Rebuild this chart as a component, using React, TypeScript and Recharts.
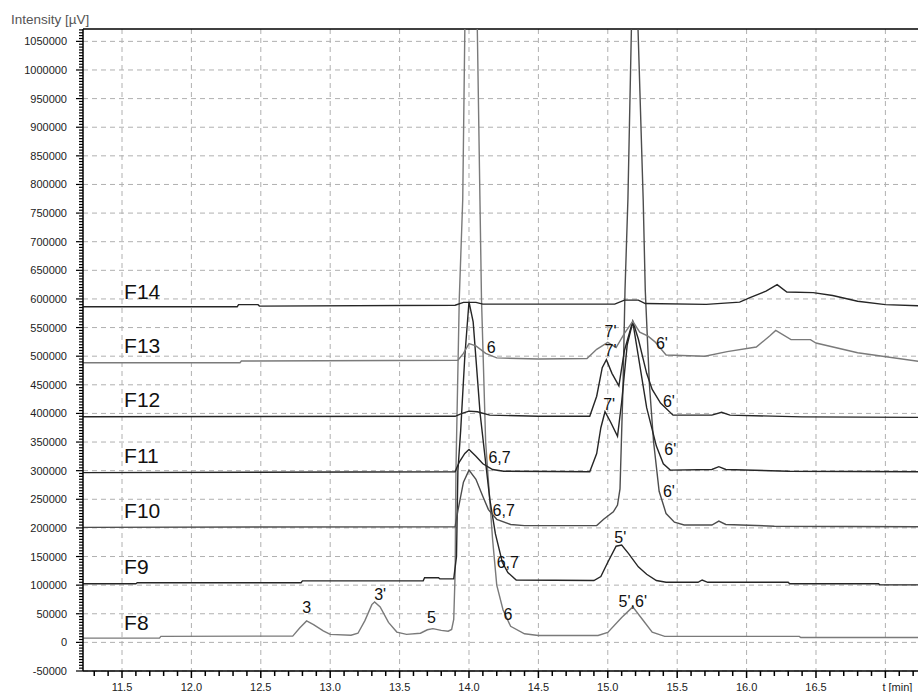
import React from 'react';
import { LineChart, Line, XAxis, YAxis, CartesianGrid, ReferenceLine, ReferenceDot } from 'recharts';

type Pt = [number, number];

// retention time [min], intensity [µV]
const f8: Pt[] = [
  [11.22, 7500], [11.77, 7500], [11.78, 10500], [12.73, 11000], [12.78, 25000], [12.83, 37500], [12.88, 31000],
  [12.95, 20000], [13.0, 14000], [13.15, 12500], [13.2, 16000], [13.25, 38000], [13.3, 66000], [13.32, 70500],
  [13.36, 62000], [13.42, 35000], [13.48, 18000], [13.55, 14000], [13.65, 16000], [13.7, 22000], [13.74, 24000],
  [13.8, 21000], [13.85, 19500], [13.875, 22500], [13.89, 40000], [13.9, 120000], [13.906, 300000], [13.93, 600000],
  [13.955, 774000], [13.97, 1070000], [14.015, 1450000], [14.06, 1070000], [14.09, 600000], [14.12, 350000],
  [14.17, 180000], [14.2, 100000], [14.245, 57000], [14.3, 28000], [14.4, 15000], [14.5, 12000], [14.93, 12000],
  [15.0, 17500], [15.1, 43500], [15.18, 62000], [15.25, 40000], [15.32, 18000], [15.41, 10500], [16.38, 10500],
  [16.39, 8500], [17.24, 8500],
];
const f9: Pt[] = [
  [11.22, 102500], [11.6, 102500], [11.61, 104300], [12.79, 104300], [12.8, 107500], [13.67, 107500], [13.68, 113000],
  [13.78, 113000], [13.79, 111000], [13.89, 111000], [13.91, 150000], [13.92, 300000], [13.94, 370000], [13.97, 500000],
  [14.0, 595000], [14.03, 560000], [14.08, 400000], [14.15, 250000], [14.19, 190000], [14.24, 140000], [14.28, 122000],
  [14.34, 109000], [14.9, 108000], [14.95, 115000], [15.0, 140000], [15.06, 168000], [15.1, 170000], [15.15, 155000],
  [15.22, 132000], [15.28, 119000], [15.35, 108000], [15.42, 105000], [15.65, 105000], [15.68, 109000],
  [15.72, 105000], [16.3, 105000], [16.31, 102500], [16.95, 102500], [16.96, 100500], [17.24, 100500],
];
const f10: Pt[] = [
  [11.22, 201000], [13.9, 202000], [13.92, 230000], [13.96, 280000], [14.0, 301000], [14.05, 285000], [14.1, 255000],
  [14.14, 232000], [14.2, 215000], [14.3, 206000], [14.4, 204000], [14.92, 204000], [14.97, 215000], [15.04, 228000],
  [15.07, 240000], [15.088, 268000], [15.11, 450000], [15.124, 615000], [15.145, 774000], [15.17, 1070000],
  [15.195, 1300000], [15.218, 1070000], [15.255, 774000], [15.27, 615000], [15.3, 450000], [15.33, 350000],
  [15.37, 264000], [15.42, 225000], [15.48, 210000], [15.55, 205000], [15.75, 205000], [15.8, 212000],
  [15.85, 206000], [16.2, 203000], [17.24, 202000],
];
const f11: Pt[] = [
  [11.22, 296500], [13.9, 298000], [13.93, 315000], [13.97, 330000], [14.0, 337000], [14.05, 325000], [14.1, 312000],
  [14.17, 302000], [14.25, 299000], [14.87, 298000], [14.92, 330000], [14.95, 375000], [14.98, 403000],
  [15.02, 385000], [15.07, 360000], [15.1, 420000], [15.14, 520000], [15.18, 560000], [15.22, 500000],
  [15.28, 410000], [15.35, 343000], [15.4, 312000], [15.45, 301000], [15.75, 302000], [15.8, 307000],
  [15.85, 302000], [16.3, 299000], [17.24, 298000],
];
const f12: Pt[] = [
  [11.22, 394300], [13.9, 395000], [13.95, 400000], [14.0, 404000], [14.06, 403000], [14.15, 397000], [14.5, 395000],
  [14.87, 395000], [14.92, 430000], [14.96, 480000], [14.99, 494000], [15.03, 470000], [15.08, 448000],
  [15.12, 510000], [15.18, 561000], [15.22, 530000], [15.28, 470000], [15.32, 442000], [15.38, 418000],
  [15.47, 397000], [15.75, 397000], [15.82, 402000], [15.88, 397000], [16.4, 394000], [17.24, 393000],
];
const f13: Pt[] = [
  [11.22, 488600], [12.35, 488600], [12.36, 491500], [13.92, 493000], [13.96, 505000], [14.0, 522000], [14.05, 518000],
  [14.12, 505000], [14.2, 497000], [14.5, 495000], [14.85, 496000], [14.92, 512000], [15.0, 524000], [15.06, 515000],
  [15.12, 540000], [15.18, 561000], [15.23, 542000], [15.29, 535000], [15.34, 525000], [15.42, 502000],
  [15.7, 500000], [15.86, 508000], [16.07, 516000], [16.17, 536000], [16.21, 545000], [16.32, 529000],
  [16.46, 529000], [16.5, 523000], [16.8, 506000], [17.24, 491000],
];
const f14: Pt[] = [
  [11.22, 586400], [12.33, 586400], [12.34, 590000], [12.48, 590000], [12.49, 587500], [13.9, 589000],
  [13.96, 594000], [14.05, 594000], [14.1, 591000], [15.05, 591000], [15.12, 598000], [15.22, 598000],
  [15.27, 592000], [15.71, 590500], [15.95, 594500], [16.02, 602000], [16.14, 613700], [16.22, 625000],
  [16.29, 612000], [16.48, 611000], [16.62, 606000], [16.8, 596000], [17.0, 590000], [17.24, 588000],
];

const traces = [f8, f9, f10, f11, f12, f13, f14];
const traceColors = ['#7a7a7a', '#262626', '#4d4d4d', '#262626', '#262626', '#7a7a7a', '#262626'];

const traceNames = ['F8', 'F9', 'F10', 'F11', 'F12', 'F13', 'F14'];
const traceNameT = 11.515;
const traceNameV = [35000, 133000, 231000, 326700, 424500, 519000, 613000];

const peakText = ['3', "3'", '5', '6', "5',6'", "5'", '6,7', '6,7', '6,7', "6'", "6'", "6'", "6'", '6', "7'", "7'", "7'"];
const peakT = [12.83, 13.36, 13.73, 14.28, 15.18, 15.09, 14.28, 14.25, 14.22, 15.44, 15.45, 15.44, 15.39, 14.16, 15.02, 15.02, 15.01];
const peakV = [61100, 83900, 43100, 48900, 72100, 182900, 139200, 231100, 322600, 264300, 337000, 421500, 522000, 514800, 543800, 510000, 415000];

const xMajorTicks = [11.5, 12.0, 12.5, 13.0, 13.5, 14.0, 14.5, 15.0, 15.5, 16.0, 16.5, 17.0];
const xTickLabels = ['11.5', '12.0', '12.5', '13.0', '13.5', '14.0', '14.5', '15.0', '15.5', '16.0', '16.5', 't [min]'];
const yMajorTicks = [-50000, 0, 50000, 100000, 150000, 200000, 250000, 300000, 350000, 400000, 450000, 500000,
  550000, 600000, 650000, 700000, 750000, 800000, 850000, 900000, 950000, 1000000, 1050000];

const X_DOMAIN: [number, number] = [11.219, 17.235];
const Y_DOMAIN: [number, number] = [-50000, 1071600];

const xAllTicks: number[] = [];
for (let i = 113; i <= 172; i++) xAllTicks.push(i / 10);
const yAllTicks: number[] = [];
for (let v = -50000; v <= 1070000; v += 5000) yAllTicks.push(v);

const FONT = '"Liberation Sans", Arial, Helvetica, sans-serif';

const XTick = (props: any) => {
  const { x, y, payload } = props;
  const idx = xMajorTicks.findIndex((m) => Math.abs(m - payload.value) < 1e-6);
  const major = idx >= 0;
  const last = idx === xMajorTicks.length - 1;
  return (
    <g>
      <rect x={x - 0.75} y={y} width={1.5} height={major ? 7 : 5} fill="#000" />
      {major && (
        <text x={last ? x - 3 : x} y={y + 20} textAnchor={last ? 'start' : 'middle'} fontSize={11} fill="#222" fontFamily={FONT}>
          {xTickLabels[idx]}
        </text>
      )}
    </g>
  );
};

const YTick = (props: any) => {
  const { x, y, payload } = props;
  const major = payload.value % 50000 === 0;
  const len = major ? 7 : 4;
  return (
    <g>
      <rect x={x - len} y={y - 0.6} width={len} height={1.2} fill="#000" />
      {major && (
        <text x={x - 16} y={y + 4} textAnchor="end" fontSize={11} fill="#222" fontFamily={FONT}>
          {payload.value}
        </text>
      )}
    </g>
  );
};

const textShape = (label: string, size: number, anchor: 'start' | 'middle') => (props: any) => (
  <text x={props.cx} y={props.cy} textAnchor={anchor} dominantBaseline="central" fontSize={size} fill="#111" fontFamily={FONT}>
    {label}
  </text>
);

export default function App() {
  return (
    <div style={{ position: 'absolute', left: 0, top: 0, width: 918, height: 692, background: '#fff', fontFamily: FONT }}>
      <div style={{ position: 'absolute', left: 11, top: 11, fontSize: 13.5, color: '#555', lineHeight: '18px' }}>
        Intensity [µV]
      </div>
      <LineChart width={918} height={692} margin={{ top: 29, right: 0, bottom: 0, left: 0 }}>
        <CartesianGrid
          stroke="#b0b0b0"
          strokeDasharray="5 4"
          horizontalValues={yMajorTicks}
          verticalValues={xMajorTicks}
        />
        <XAxis
          type="number"
          dataKey="t"
          domain={X_DOMAIN}
          allowDataOverflow
          ticks={xAllTicks}
          interval={0}
          tickLine={false}
          tickSize={0}
          tickMargin={0}
          tick={<XTick />}
          height={21}
          axisLine={{ stroke: '#000', strokeWidth: 1.5 }}
        />
        <YAxis
          type="number"
          domain={Y_DOMAIN}
          allowDataOverflow
          ticks={yAllTicks}
          interval={0}
          tickLine={false}
          tickSize={0}
          tickMargin={0}
          tick={<YTick />}
          width={83}
          axisLine={{ stroke: '#000', strokeWidth: 1.5 }}
        />
        <ReferenceLine y={Y_DOMAIN[1]} stroke="#000" strokeWidth={1.5} />
        {traces.map((tr, i) => (
          <Line
            key={traceNames[i]}
            data={tr.map(([t, v]) => ({ t, v }))}
            dataKey="v"
            type="linear"
            stroke={traceColors[i]}
            strokeWidth={1.4}
            dot={false}
            activeDot={false}
            isAnimationActive={false}
          />
        ))}
        {traceNames.map((n, i) => (
          <ReferenceDot key={n} x={traceNameT} y={traceNameV[i]} r={0} shape={textShape(n, 21, 'start')} />
        ))}
        {peakText.map((p, i) => (
          <ReferenceDot key={'p' + i} x={peakT[i]} y={peakV[i]} r={0} shape={textShape(p, 16, 'middle')} />
        ))}
      </LineChart>
    </div>
  );
}
